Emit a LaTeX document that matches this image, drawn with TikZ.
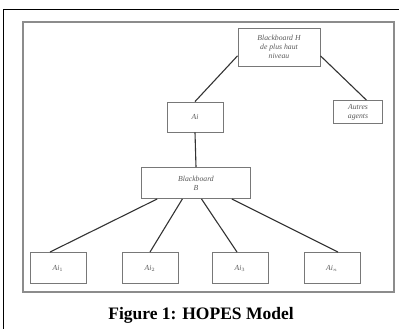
\documentclass[tikz,border=0pt]{standalone}
\usepackage{fontspec}
\setmainfont{Liberation Serif}
\definecolor{frame}{RGB}{140,140,140}
\definecolor{boxline}{RGB}{120,120,120}
\definecolor{inktxt}{RGB}{90,90,90}
\usetikzlibrary{calc,positioning}

\tikzset{
  bx/.style={draw=boxline,line width=0.9pt,fill=white,inner sep=1pt,align=center,
    font=\fontsize{7.7}{9}\selectfont\itshape,text=inktxt},
  lnk/.style={draw=black!80,line width=1.1pt}
}

\begin{document}
\begin{tikzpicture}[x=1pt,y=-1pt]
        \useasboundingbox (0,0) rectangle (399,329);
        % page frame
        \draw[black,line width=1pt] (3,329) -- (3,10) -- (399,10);
        \draw[frame,line width=1.6pt] (23,22) rectangle (394,292);
        % boxes
        \node[bx,minimum width=82pt,minimum height=38pt] (bbh) at (279,47) {Blackboard H\\de plus haut\\niveau};
        \node[bx,minimum width=56pt,minimum height=30pt] (ai) at (195,117) {Ai};
        \node[bx,minimum width=49pt,minimum height=23pt] (autres) at (358,112) {Autres\\agents};
        \node[bx,minimum width=109pt,minimum height=31pt] (bbb) at (196,183) {Blackboard\\B};
        \node[bx,minimum width=56pt,minimum height=31pt] (ai1) at (58,268) {Ai$_1$};
        \node[bx,minimum width=56pt,minimum height=31pt] (ai2) at (150,268) {Ai$_2$};
        \node[bx,minimum width=56pt,minimum height=31pt] (ai3) at (240,268) {Ai$_3$};
        \node[bx,minimum width=56pt,minimum height=31pt] (ain) at (332,268) {Ai$_n$};
        % links
        \draw[lnk] (bbh.192) -- (ai.north);
        \draw[lnk] (bbh.-12) -- (autres.55);
        \draw[lnk] (ai.south) -- (bbb.north);
        \draw[lnk] ($(bbb.south west)!0.147!(bbb.south east)$) -- ([xshift=-8pt]ai1.north);
        \draw[lnk] ($(bbb.south west)!0.376!(bbb.south east)$) -- (ai2.north);
        \draw[lnk] ($(bbb.south west)!0.55!(bbb.south east)$) -- ([xshift=-3pt]ai3.north);
        \draw[lnk] ($(bbb.south west)!0.826!(bbb.south east)$) -- ([xshift=6pt]ain.north);
        % caption
        \node[font=\fontsize{17.5}{19}\selectfont\bfseries] (cap) at (201,315) {Figure 1: HOPES Model};
\end{tikzpicture}
\end{document}
